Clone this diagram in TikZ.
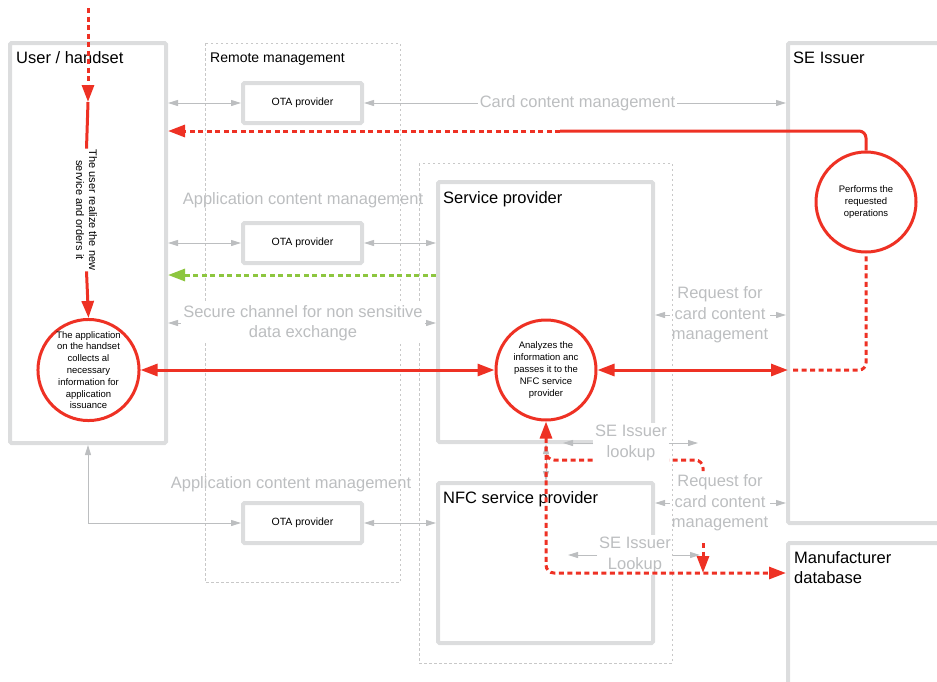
\documentclass[tikz,border=0pt]{standalone}
\usepackage{fontspec}
\setmainfont{Liberation Sans}
\usetikzlibrary{arrows.meta,calc}

\definecolor{boxgray}{HTML}{DCDDDE}
\definecolor{linegray}{HTML}{BCBEC0}
\definecolor{dotgray}{HTML}{C8C8C8}
\definecolor{flowred}{HTML}{EE3124}
\definecolor{flowgreen}{HTML}{8DC63F}

\tikzset{
  gtip/.tip={Triangle[length=10pt,width=6pt]},
  rtip/.tip={Triangle[length=17pt,width=12pt]},
  gbox/.style={draw=boxgray, line width=4pt, rounded corners=1.5pt, inner sep=0pt},
  otabox/.style={gbox, minimum width=119pt, minimum height=40pt,
                 font=\fontsize{10.5}{12}\selectfont},
  dotbox/.style={draw=dotgray, line width=0.9pt, dash pattern=on 2.5pt off 2.5pt},
  title/.style={font=\fontsize{16.5}{20}\selectfont, inner sep=0pt},
  glabel/.style={text=linegray, font=\fontsize{16.5}{20.5}\selectfont,
                 align=center, inner sep=2pt},
  gline/.style={draw=linegray, line width=1pt},
  redline/.style={draw=flowred, line width=3pt},
  reddash/.style={redline, dash pattern=on 5pt off 3.5pt},
  greendash/.style={draw=flowgreen, line width=3pt, dash pattern=on 5pt off 3.5pt},
  rcirc/.style={circle, draw=flowred, line width=3pt, fill=white,
                minimum size=100pt, inner sep=0pt, align=center,
                font=\fontsize{9.5}{11.8}\selectfont},
}

\begin{document}
\begin{tikzpicture}[x=1pt,y=-1pt]
\useasboundingbox (0,0) rectangle (937,681);
\clip (0,0) rectangle (937,681);

% actor boxes
\node[gbox, minimum width=156pt, minimum height=400pt] (user) at (88,243) {};
\node[gbox, minimum width=215pt, minimum height=260pt] (sp) at (545.5,312) {};
\node[gbox, minimum width=215pt, minimum height=160pt] (nfc) at (545.5,563) {};
\node[gbox, minimum width=172pt, minimum height=480pt] (sei) at (874,283) {};
\node[gbox, minimum width=172pt, minimum height=177pt] (mdb) at (874,631.5) {};
\node[otabox] (ota1) at (302.5,103) {OTA provider};
\node[otabox] (ota2) at (302.5,243) {OTA provider};
\node[otabox] (ota3) at (302.5,523) {OTA provider};

% box titles
\node[title, anchor=base west] (usertitle) at (16,63) {User / handset};
\node[title, anchor=base west, font=\fontsize{14}{17}\selectfont] (remtitle) at (210,62) {Remote management};
\node[title, anchor=base west] (seititle) at (793,63) {SE Issuer};
\node[title, anchor=base west] (sptitle) at (443,203) {Service provider};
\node[title, anchor=base west] (nfctitle) at (443,503) {NFC service provider};
\node[title, anchor=north west, align=left] (mdbtitle) at (794,551) {Manufacturer\\database};

% lookup branch of the NFC service provider
\coordinate (brstart) at (546,447);
\coordinate (brturn) at (703,460);
\coordinate (brgap) at (703,471);
\coordinate (brresume) at (703,543);
\coordinate (lowrow) at (546,573);
\draw[reddash, rounded corners=8pt] (brstart) |- (brturn) -- (brgap);
\draw[reddash, -rtip] (brresume) -- (brresume |- lowrow);

% grey channel labels
\node[glabel] (cardlbl) at (577.5,103) {Card content management};
\node[glabel, anchor=base] (app1) at (303,204) {Application content management};
\node[glabel, anchor=base] (app2) at (291,488) {Application content management};
\node[glabel] (req1) at (720,315) {Request for\\card content\\management};
\node[glabel] (req2) at (720,503) {Request for\\card content\\management};
\node[glabel, fill=white] (lk1) at (631,443) {SE Issuer\\lookup};
\node[glabel, fill=white] (lk2) at (635,555) {SE Issuer\\Lookup};

% domain frames
\draw[dotbox] (205,43) rectangle (400,582);
\draw[dotbox] (419,163) rectangle (672,663);

\node[glabel, fill=white] (seclbl) at (303,323) {Secure channel for non sensitive\\data exchange};

% grey channels
\draw[gline, gtip-gtip] (user.east |- ota1.west) -- (ota1.west);
\draw[gline, gtip-] (ota1.east) -- (cardlbl.west);
\draw[gline, -gtip] (cardlbl.east) -- (sei.west |- cardlbl.east);

\draw[gline, gtip-gtip] (user.east |- ota2.west) -- (ota2.west);
\draw[gline, gtip-gtip] (ota2.east) -- (sp.west |- ota2.east);

\draw[gline, gtip-] (user.east |- seclbl.west) -- (seclbl.west);
\draw[gline, -gtip] (seclbl.east) -- (sp.west |- seclbl.east);

\draw[gline, gtip-] (sp.east |- req1.west) -- (req1.west);
\draw[gline, -gtip] (req1.east) -- (sei.west |- req1.east);

\draw[gline, gtip-] (nfc.east |- req2.west) -- (req2.west);
\draw[gline, -gtip] (req2.east) -- (sei.west |- req2.east);

\coordinate (lk1l) at (563,443);
\coordinate (lk1r) at (698,443);
\coordinate (lk2l) at (568,555);
\coordinate (lk2r) at (700,555);
\draw[gline, -gtip] (lk1.west) -- (lk1l);
\draw[gline, -gtip] (lk1.east) -- (lk1r);
\draw[gline, -gtip] (lk2.west) -- (lk2l);
\draw[gline, -gtip] (lk2.east) -- (lk2r);

\draw[gline, gtip-gtip] (user.south) |- (ota3.west);
\draw[gline, gtip-gtip] (ota3.east) -- (nfc.west |- ota3.east);

% processing steps
\node[rcirc] (ucirc) at (88.5,370) {The application\\on the handset\\collects al\\necessary\\information for\\application\\issuance};
\node[rcirc] (spcirc) at (546,370) {Analyzes the\\information anc\\passes it to the\\NFC service\\provider};
\node[rcirc] (pcirc) at (866,202) {Performs the\\requested\\operations};

\coordinate (gspcirc) at (546,370);
\draw[gline, gtip-gtip] (gspcirc |- sp.south) -- (gspcirc |- nfc.north);

% order placed by the user
\coordinate (topin) at (88,8);
\coordinate (entry) at (88,102);
\node[rotate=-90, align=center, inner sep=1pt, font=\fontsize{11}{13}\selectfont] (ordtxt) at (86.5,210) {The user realize the new\\service and orders it};
\draw[reddash, -rtip] (topin) -- (entry);
\draw[redline] (entry) -- (ordtxt.west);
\draw[redline, -rtip] (ordtxt.east) -- (ucirc.north);

% information flow between handset, service provider and SE issuer
\draw[redline, rtip-rtip] (ucirc.east) -- (spcirc.west);
\coordinate (seientry) at (788,370);
\coordinate (seiinner) at (793,370);
\draw[redline, rtip-rtip] (spcirc.east) -- (seientry);
\draw[reddash, rounded corners=7pt] (seiinner) -| (pcirc.south);

\coordinate (split) at (560,131);
\draw[redline, rounded corners=7pt] (pcirc.north) |- (split);
\draw[reddash, -rtip] (split) -- (user.east |- split);

\draw[reddash, rtip-rtip, rounded corners=8pt] (spcirc.south) |- (mdb.west |- lowrow);

% confirmation to the handset
\coordinate (greeny) at (438,275);
\draw[greendash, -rtip] (sp.west |- greeny) -- (user.east |- greeny);

\end{tikzpicture}
\end{document}
